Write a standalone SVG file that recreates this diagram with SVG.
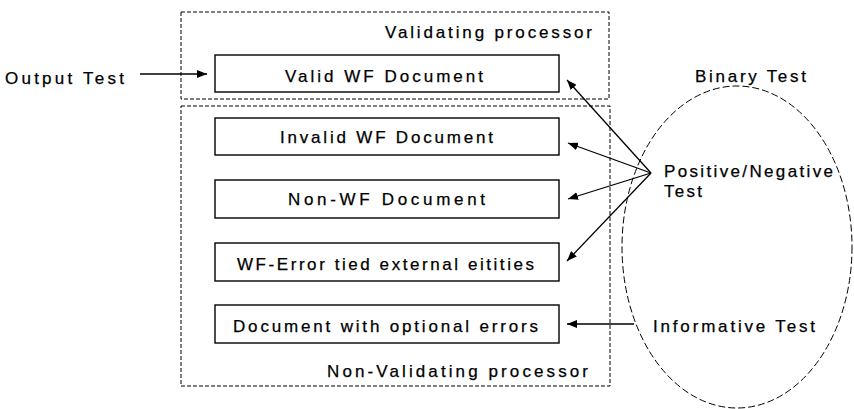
<svg xmlns="http://www.w3.org/2000/svg" width="854" height="409" viewBox="0 0 854 409">
  <defs>
    <marker id="arrow" viewBox="0 0 10 8" refX="10" refY="4" markerWidth="10" markerHeight="8" markerUnits="userSpaceOnUse" orient="auto">
      <path d="M0,0 L10,4 L0,8 Z" fill="#000"/>
    </marker>
    <style>
      text { font-family: "Liberation Sans", Arial, sans-serif; font-size: 17px; fill: #000; stroke: #000; stroke-width: 0.25; }
      .region { fill: none; stroke: #000; stroke-width: 1; stroke-dasharray: 4 2; }
      .doc { fill: #fff; stroke: #000; stroke-width: 1.4; }
      .scope { fill: none; stroke: #000; stroke-width: 1; stroke-dasharray: 7 3; }
      .link { fill: none; stroke: #000; stroke-width: 1.3; marker-end: url(#arrow); }
    </style>
  </defs>
  <rect width="854" height="409" fill="#fff"/>

  <!-- processor regions -->
  <g id="validating">
    <rect class="region" x="181" y="12" width="428" height="87"/>
    <text x="385" y="38" textLength="207" lengthAdjust="spacing">Validating processor</text>
  </g>
  <g id="non-validating">
    <rect class="region" x="181" y="106" width="429" height="280"/>
    <text x="327" y="377" textLength="261" lengthAdjust="spacing">Non-Validating processor</text>
  </g>

  <!-- test scope ellipse -->
  <g id="binary-test">
    <ellipse class="scope" cx="737" cy="247" rx="115" ry="161"/>
    <text x="695" y="82" textLength="111" lengthAdjust="spacing">Binary Test</text>
  </g>

  <!-- document nodes -->
  <g id="valid-wf">
    <rect class="doc" x="215" y="55" width="344" height="37"/>
    <text x="285" y="82" textLength="198" lengthAdjust="spacing">Valid WF Document</text>
  </g>
  <g id="invalid-wf">
    <rect class="doc" x="215" y="118" width="344" height="37"/>
    <text x="280" y="143" textLength="213" lengthAdjust="spacing">Invalid WF Document</text>
  </g>
  <g id="non-wf">
    <rect class="doc" x="215" y="180" width="344" height="38"/>
    <text x="288" y="205" textLength="197" lengthAdjust="spacing">Non-WF Document</text>
  </g>
  <g id="wf-error">
    <rect class="doc" x="215" y="243" width="344" height="38"/>
    <text x="237" y="270" textLength="297" lengthAdjust="spacing">WF-Error tied external eitities</text>
  </g>
  <g id="optional-errors">
    <rect class="doc" x="215" y="305" width="344" height="38"/>
    <text x="233" y="332" textLength="305" lengthAdjust="spacing">Document with optional errors</text>
  </g>

  <!-- test labels -->
  <g id="output-test">
    <text x="5" y="84" textLength="119" lengthAdjust="spacing">Output Test</text>
  </g>
  <g id="positive-negative">
    <text x="664" y="177" textLength="169" lengthAdjust="spacing">Positive/Negative</text>
    <text x="664" y="197" textLength="38" lengthAdjust="spacing">Test</text>
  </g>
  <g id="informative">
    <text x="653" y="332" textLength="162" lengthAdjust="spacing">Informative Test</text>
  </g>

  <!-- connectors -->
  <g id="connectors">
    <line class="link" x1="140" y1="74" x2="207" y2="74"/>
    <line class="link" x1="651" y1="173" x2="567" y2="80"/>
    <line class="link" x1="651" y1="173" x2="568" y2="143"/>
    <line class="link" x1="651" y1="173" x2="568" y2="199"/>
    <line class="link" x1="651" y1="173" x2="567" y2="261"/>
    <line class="link" x1="634" y1="324" x2="567" y2="324"/>
  </g>
</svg>
